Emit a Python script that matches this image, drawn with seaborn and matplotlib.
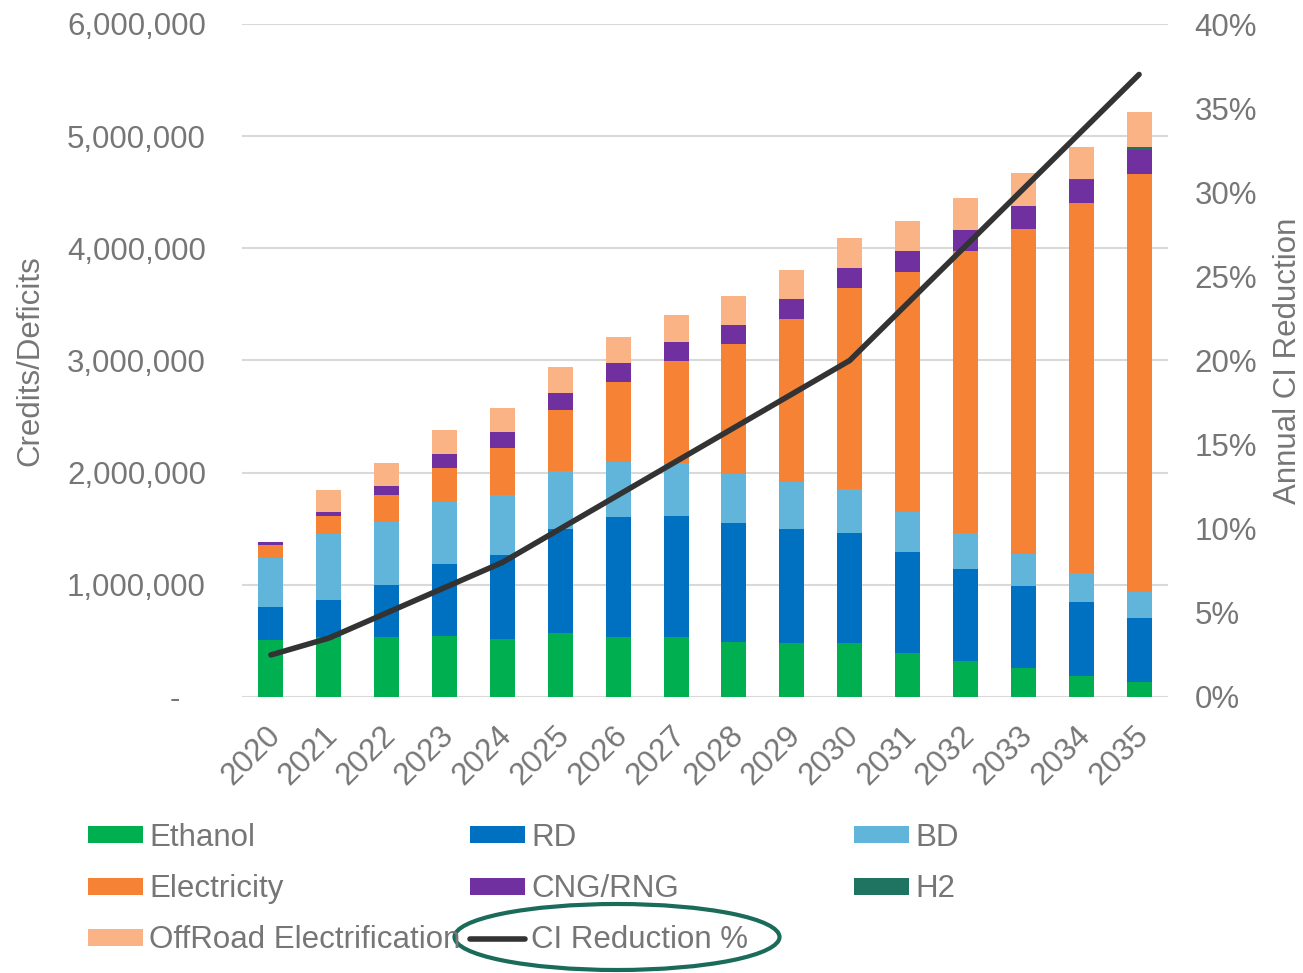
import matplotlib
matplotlib.use("Agg")
import matplotlib.pyplot as plt
import seaborn as sns
import numpy as np
from matplotlib.patches import Ellipse, Patch
from matplotlib.lines import Line2D
from matplotlib.ticker import FuncFormatter, MultipleLocator
import matplotlib.transforms as mtransforms

# ---------------- data ----------------
years = [str(y) for y in range(2020, 2036)]
ethanol = [508000, 535000, 535000, 544000, 517000, 570000, 535000, 535000,
           490000, 481000, 481000, 396000, 325000, 255000, 191000, 131000]
rd = [294000, 330000, 463000, 641000, 749000, 927000, 1069000, 1078000,
      1061000, 1016000, 981000, 896000, 819000, 738000, 653000, 572000]
bd = [437000, 588000, 562000, 553000, 534000, 517000, 490000, 473000,
      437000, 419000, 392000, 357000, 318000, 286000, 258000, 229000]
electricity = [116000, 160000, 240000, 303000, 419000, 544000, 713000, 909000,
               1158000, 1453000, 1791000, 2143000, 2510000, 2895000, 3298000, 3729000]
cng_rng = [26000, 36000, 80000, 125000, 143000, 151000, 170000, 169000,
           170000, 178000, 179000, 183000, 191000, 201000, 205000, 219000]
h2 = [0, 0, 0, 0, 0, 0, 0, 0, 0, 0, 0, 0, 3000, 6000, 12000, 25000]
offroad = [0, 196000, 205000, 214000, 214000, 232000, 232000, 241000,
           258000, 259000, 267000, 270000, 280000, 287000, 288000, 311000]
ci_reduction = [2.5, 3.5, 5.0, 6.5, 8.0, 10.0, 12.0, 14.0, 16.0, 18.0, 20.0,
                23.4, 26.8, 30.2, 33.6, 37.0]

series_names = ["Ethanol", "RD", "BD", "Electricity", "CNG/RNG", "H2",
                "OffRoad Electrification"]
series_vals = [ethanol, rd, bd, electricity, cng_rng, h2, offroad]
colors = ["#00b050", "#0070c0", "#62b5da", "#f58235", "#7030a0", "#1e7361",
          "#f9b384"]
line_color = "#333333"
text_color = "#767676"

# ---------------- style ----------------
sns.set_theme(style="white")
plt.rcParams["font.family"] = ["Liberation Sans", "DejaVu Sans"]
FS = 22.5

W, H = 1303, 973
fig = plt.figure(figsize=(W / 100, H / 100), dpi=100)
ax = fig.add_axes([242 / W, 1 - 697 / H, (1168 - 242) / W, (697 - 24) / H])

cum = np.cumsum(np.array(series_vals, dtype=float), axis=0)
for i in reversed(range(len(series_vals))):
    sns.barplot(x=years, y=cum[i], color=colors[i], width=0.43,
                saturation=1, ax=ax, linewidth=0, zorder=2)

ax.set_xlim(-0.5, len(years) - 0.5)
ax.set_ylim(0, 6_000_000)
ax.yaxis.set_major_locator(MultipleLocator(1_000_000))
ax.yaxis.set_major_formatter(FuncFormatter(
    lambda v, p: "-   " if v == 0 else f"{v:,.0f}"))
ax.set_axisbelow(True)
ax.yaxis.grid(True, color="#d9d9d9", lw=1.5)
ax.xaxis.grid(False)
for s in ax.spines.values():
    s.set_visible(False)
ax.tick_params(axis="y", length=0, pad=26, labelsize=FS, labelcolor=text_color)
ax.tick_params(axis="x", length=0, pad=4, labelsize=FS, labelcolor=text_color)
offset = mtransforms.ScaledTranslation(-6 / 100, -18 / 100, fig.dpi_scale_trans)
for lab in ax.get_xticklabels():
    lab.set_rotation(45)
    lab.set_ha("right")
    lab.set_va("top")
    lab.set_rotation_mode("anchor")
    lab.set_transform(lab.get_transform() + offset)
ax.set_xlabel("")
ax.set_ylabel("Credits/Deficits", fontsize=FS, color=text_color)
ax.yaxis.set_label_coords(-0.212, 0.5)

ax2 = ax.twinx()
sns.lineplot(x=np.arange(len(years)), y=ci_reduction, ax=ax2, color=line_color,
             lw=4.0, solid_joinstyle="round", solid_capstyle="round")
ax2.set_ylim(0, 40)
ax2.yaxis.set_major_locator(MultipleLocator(5))
ax2.yaxis.set_major_formatter(FuncFormatter(lambda v, p: f"{v:.0f}%"))
ax2.grid(False)
for s in ax2.spines.values():
    s.set_visible(False)
ax2.tick_params(axis="y", length=0, pad=19, labelsize=FS, labelcolor=text_color)
ax2.set_ylabel("Annual CI Reduction", fontsize=FS, color=text_color)
ax2.yaxis.set_label_coords(1.113, 0.5)

# ---------------- legend (3 columns) ----------------
handles = {n: Patch(facecolor=c, edgecolor="none") for n, c in zip(series_names, colors)}
handles["CI Reduction %"] = Line2D([], [], color=line_color, lw=4.0)
columns = [["Ethanol", "Electricity", "OffRoad Electrification"],
           ["RD", "CNG/RNG", "CI Reduction %"],
           ["BD", "H2"]]
col_x = [88, 470, 854]
for cx, names in zip(col_x, columns):
    leg = fig.legend([handles[n] for n in names], names, loc="upper left",
                     bbox_to_anchor=(cx / W, 1 - 823 / H), frameon=False,
                     fontsize=FS, handlelength=1.75, handleheight=0.45,
                     handletextpad=0.2, labelspacing=0.68, borderpad=0,
                     borderaxespad=0)
    for t in leg.get_texts():
        t.set_color(text_color)

fig.add_artist(Ellipse((617 / W, 1 - 937 / H), 325 / W, 66 / H,
                       transform=fig.transFigure, fill=False,
                       edgecolor="#1b6b5a", lw=3))

fig.savefig("out.png", dpi=100)
